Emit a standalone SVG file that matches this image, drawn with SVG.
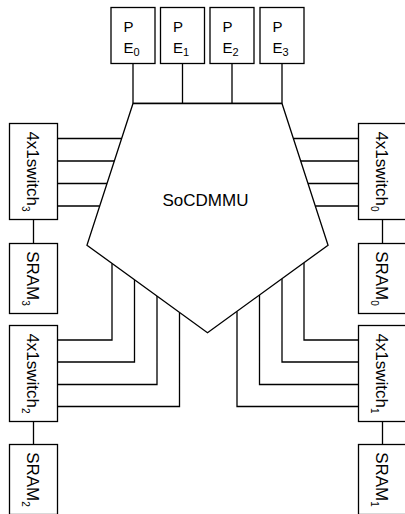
<svg xmlns="http://www.w3.org/2000/svg" width="405" height="514" viewBox="0 0 405 514">
<style>
.box{fill:#fff;stroke:#000;stroke-width:1.3}
.ln{fill:none;stroke:#000;stroke-width:1.3}
.t{font-family:"Liberation Sans",Arial,sans-serif;fill:#000}
.pe{font-size:15px}
.big{font-size:17px}
.sub{font-size:10px}
</style>
<rect width="405" height="514" fill="#fff"/>
<g id="connectors">
<path class="ln" d="M133 63.5V103.5M182.5 63.5V103.5M232 63.5V103.5M282 63.5V103.5M133 103.5H282"/>
<path class="ln" d="M57.5 138.5H121.6M57.5 161H114.3M57.5 183.5H107M57.5 206H99.7"/>
<path class="ln" d="M358.5 138.5H293.4M358.5 161H300.7M358.5 183.5H308M358.5 206H315.3"/>
<path class="ln" d="M57.5 340H112V263.4M57.5 362H134.5V279.8M57.5 384.5H157V296.1M57.5 406.5H179.5V312.5"/>
<path class="ln" d="M358.5 340H304V262.7M358.5 362H282V278.7M358.5 384.5H259.5V295M358.5 406.5H237V311.4"/>
<path class="ln" d="M33.5 219.5V243.5M33.5 421.5V444.5M382.5 219.5V243.5M382.5 421.5V444.5"/>
</g>
<g id="socdmmu">
<polygon class="box" points="133,103.5 282,103.5 328.05,245.2 207.5,332.8 86.95,245.2"/>
<text class="t big" x="205.5" y="205.5" text-anchor="middle">SoCDMMU</text>
</g>
<g id="pe0"><rect class="box" x="111" y="7.5" width="44" height="56"/><text class="t pe" x="123.5" y="32">P</text><text class="t pe" x="123.5" y="53">E<tspan font-size="11" dy="3">0</tspan></text></g>
<g id="pe1"><rect class="box" x="160.5" y="7.5" width="44" height="56"/><text class="t pe" x="173" y="32">P</text><text class="t pe" x="173" y="53">E<tspan font-size="11" dy="3">1</tspan></text></g>
<g id="pe2"><rect class="box" x="210" y="7.5" width="44" height="56"/><text class="t pe" x="222.5" y="32">P</text><text class="t pe" x="222.5" y="53">E<tspan font-size="11" dy="3">2</tspan></text></g>
<g id="pe3"><rect class="box" x="260" y="7.5" width="44" height="56"/><text class="t pe" x="272.5" y="32">P</text><text class="t pe" x="272.5" y="53">E<tspan font-size="11" dy="3">3</tspan></text></g>
<g id="switch3"><rect class="box" x="9.5" y="123.5" width="48" height="96"/><text class="t big" text-anchor="middle" transform="translate(26.5,171.5) rotate(90)">4x1switch<tspan class="sub" dy="5">3</tspan></text></g>
<g id="sram3"><rect class="box" x="9.5" y="243.5" width="48" height="70"/><text class="t big" text-anchor="middle" transform="translate(26.5,278.5) rotate(90)">SRAM<tspan class="sub" dy="5">3</tspan></text></g>
<g id="switch2"><rect class="box" x="9.5" y="325.5" width="48" height="96"/><text class="t big" text-anchor="middle" transform="translate(26.5,373.5) rotate(90)">4x1switch<tspan class="sub" dy="5">2</tspan></text></g>
<g id="sram2"><rect class="box" x="9.5" y="444.5" width="48" height="70"/><text class="t big" text-anchor="middle" transform="translate(26.5,479.5) rotate(90)">SRAM<tspan class="sub" dy="5">2</tspan></text></g>
<g id="switch0"><rect class="box" x="358.5" y="123.5" width="48" height="96"/><text class="t big" text-anchor="middle" transform="translate(375.5,171.5) rotate(90)">4x1switch<tspan class="sub" dy="5">0</tspan></text></g>
<g id="sram0"><rect class="box" x="358.5" y="243.5" width="48" height="70"/><text class="t big" text-anchor="middle" transform="translate(375.5,278.5) rotate(90)">SRAM<tspan class="sub" dy="5">0</tspan></text></g>
<g id="switch1"><rect class="box" x="358.5" y="325.5" width="48" height="96"/><text class="t big" text-anchor="middle" transform="translate(375.5,373.5) rotate(90)">4x1switch<tspan class="sub" dy="5">1</tspan></text></g>
<g id="sram1"><rect class="box" x="358.5" y="444.5" width="48" height="70"/><text class="t big" text-anchor="middle" transform="translate(375.5,479.5) rotate(90)">SRAM<tspan class="sub" dy="5">1</tspan></text></g>
</svg>
